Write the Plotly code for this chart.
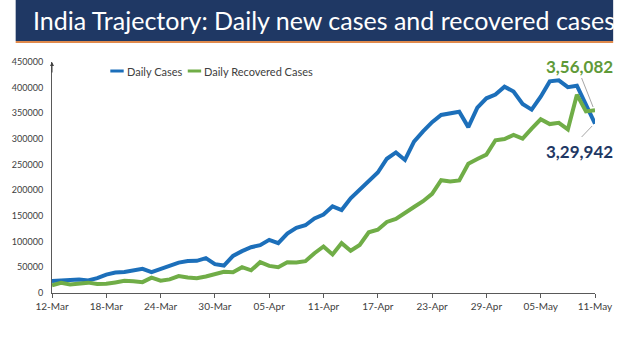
import plotly.graph_objects as go
import pandas as pd

dates = pd.date_range("2021-03-12", "2021-05-11", freq="D").strftime("%Y-%m-%d").tolist()

daily_cases = [
    23285, 24882, 25320, 26291, 24492, 28903, 35871, 39726, 40953, 43846,
    46951, 40715, 47262, 53476, 59118, 62258, 62714, 68020, 56211, 53480,
    72330, 81466, 89129, 93249, 103558, 96982, 115736, 126789, 131968, 145384,
    152879, 168912, 161736, 184372, 200739, 217353, 234692, 261500, 273810, 259170,
    295041, 314835, 332730, 346786, 349691, 352991, 323144, 360960, 379257, 386452,
    401993, 392488, 368147, 357229, 382315, 412262, 414188, 401078, 403738, 366161,
    329942,
]
daily_recovered = [
    15157, 19957, 16637, 17455, 20191, 17741, 17958, 20654, 23653, 22956,
    21180, 29785, 23907, 26490, 32987, 30386, 28739, 32231, 37028, 41280,
    40382, 50356, 44202, 60048, 52847, 50143, 59856, 59258, 61899, 77567,
    90584, 75086, 97168, 82339, 93528, 118302, 123354, 138423, 144178, 154761,
    167457, 178841, 193279, 219838, 217113, 219272, 251827, 261162, 269507, 297540,
    299988, 307865, 300732, 320289, 338439, 329113, 331507, 318609, 386444, 353818,
    356082,
]
tick_dates = dates[::6]
tick_labels = pd.to_datetime(tick_dates).strftime("%d-%b").tolist()
y_ticks = list(range(0, 450001, 50000))

title = "India Trajectory: Daily new cases and recovered cases"
label_recovered = "3,56,082"
label_cases = "3,29,942"

BLUE = "#1C6FBA"
GREEN = "#70AD47"
NAVY = "#1F3864"

W, H = 625, 351
L, R, T, B = 38, 606, 62, 293
pw, ph = R - L, B - T


def px(x):
    return (x - L) / pw


def py(y):
    return (B - y) / ph


fig = go.Figure()
fig.add_trace(go.Scatter(x=dates, y=daily_cases, mode="lines", name="Daily Cases",
                         line=dict(color=BLUE, width=4), showlegend=False))
fig.add_trace(go.Scatter(x=dates, y=daily_recovered, mode="lines", name="Daily Recovered Cases",
                         line=dict(color=GREEN, width=4), showlegend=False))

shapes = [
    dict(type="rect", xref="paper", yref="paper", x0=px(0), x1=px(W), y0=py(41), y1=py(0),
         fillcolor=NAVY, line=dict(width=0), layer="below"),
    dict(type="line", xref="paper", yref="paper", x0=px(0), x1=px(W), y0=py(42), y1=py(42),
         line=dict(color="#E08A4C", width=2)),
    # legend samples
    dict(type="line", xref="paper", yref="paper", x0=px(99), x1=px(113), y0=py(71), y1=py(71),
         line=dict(color=BLUE, width=3)),
    dict(type="line", xref="paper", yref="paper", x0=px(180), x1=px(194), y0=py(71), y1=py(71),
         line=dict(color=GREEN, width=3)),
    # leader lines
    dict(type="line", xref="paper", yref="paper", x0=px(592), x1=px(604), y0=py(78), y1=py(107),
         line=dict(color="#A6A6A6", width=1)),
    dict(type="line", xref="paper", yref="paper", x0=px(592), x1=px(603), y0=py(137), y1=py(126),
         line=dict(color="#A6A6A6", width=1)),
]

annotations = [
    dict(text=title, xref="paper", yref="paper", x=px(322), y=py(20), showarrow=False,
         font=dict(family="Lato", size=25, color="white"), xanchor="center", yanchor="middle"),
    dict(text="Daily Cases", xref="paper", yref="paper", x=px(114), y=py(71), showarrow=False,
         xanchor="left", yanchor="middle", font=dict(family="Lato", size=11, color="#404040")),
    dict(text="Daily Recovered Cases", xref="paper", yref="paper", x=px(195), y=py(71), showarrow=False,
         xanchor="left", yanchor="middle", font=dict(family="Lato", size=11, color="#404040")),
    dict(text="<b>" + label_recovered + "</b>", xref="paper", yref="paper", x=px(590), y=py(66),
         showarrow=False, xanchor="center", yanchor="middle",
         font=dict(family="Lato", size=17, color="#5F9A38")),
    dict(text="<b>" + label_cases + "</b>", xref="paper", yref="paper", x=px(590), y=py(151),
         showarrow=False, xanchor="center", yanchor="middle",
         font=dict(family="Lato", size=17, color=NAVY)),
    # y-axis arrowhead
    dict(text="", xref="paper", yref="paper", x=0, y=py(62), ax=0, ay=12, showarrow=True,
         arrowhead=2, arrowsize=0.8, arrowwidth=1, arrowcolor="#404040"),
]

fig.update_layout(
    width=W, height=H,
    margin=dict(l=L, r=W - R, t=T, b=H - B, pad=0),
    paper_bgcolor="white", plot_bgcolor="white",
    shapes=shapes, annotations=annotations,
    showlegend=False,
    xaxis=dict(range=[dates[0], dates[-1]], tickvals=tick_dates, ticktext=tick_labels,
               showgrid=False, zeroline=False, showline=True, linecolor="#595959", linewidth=1,
               ticks="outside", ticklen=4, tickcolor="#595959",
               tickfont=dict(family="Lato", size=10, color="#404040")),
    yaxis=dict(range=[0, 450000], tickvals=y_ticks, ticktext=[str(v) for v in y_ticks],
               showgrid=False, zeroline=False, showline=True, linecolor="#595959", linewidth=1,
               ticks="", ticklabelstandoff=6,
               tickfont=dict(family="Lato", size=9, color="#404040")),
)

fig.write_html("out.html")
